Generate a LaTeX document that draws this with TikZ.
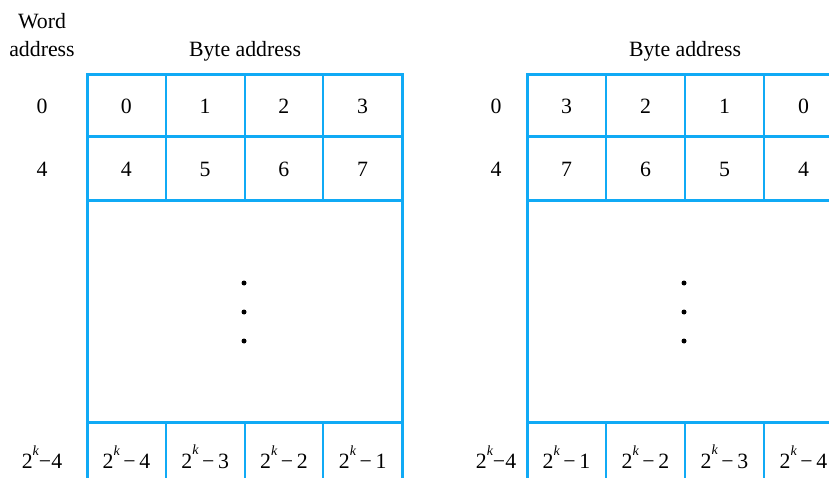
\documentclass[tikz,border=0pt]{standalone}
\usepackage{fontspec}
\setmainfont{Liberation Serif}
\definecolor{memblue}{RGB}{16,170,245}
\newcommand{\kexp}{\raisebox{0.62em}{\fontsize{14}{14}\selectfont\itshape k}}
\newcommand{\kpow}[1]{2\kexp\,−\,#1}
\newcommand{\kpowl}[1]{2\kexp−#1}
\begin{document}
\begin{tikzpicture}[x=1pt,y=-1pt,
  outer/.style={draw=memblue,line width=3pt},
  inner/.style={draw=memblue,line width=2pt},
  lbl/.style={font=\fontsize{21.8}{28}\selectfont, inner sep=0pt, anchor=center, align=center},
  dotm/.style={fill=black,circle,inner sep=0pt,minimum size=5pt}]
\useasboundingbox (0,0) rectangle (829,478);
\clip (0,0) rectangle (829,478);
% ---------- left box ----------
\draw[outer] (87,75) rectangle (402,500);
\foreach \yy in {137,201,422} \draw[outer] (87,\yy) -- (402,\yy);
\foreach \i in {1,2,3} {
  \draw[inner] ({87+\i*78.75},75) -- ({87+\i*78.75},201);
  \draw[inner] ({87+\i*78.75},422) -- ({87+\i*78.75},500);
}
\node[lbl] (wa) at (42,35) {Word\\address};
\node[lbl] (lba) at (245,51) {Byte address};
\node[lbl] (lw0) at (42,106) {0};
\node[lbl] (lw4) at (42,169) {4};
\node[lbl] (lwk) at (42,457) {\kpowl{4}};
\foreach \t [count=\c from 0] in {0,1,2,3}
  \node[lbl] (L-a-\c) at ({87+39.4+\c*78.75},106) {\t};
\foreach \t [count=\c from 0] in {4,5,6,7}
  \node[lbl] (L-b-\c) at ({87+39.4+\c*78.75},169) {\t};
\foreach \t [count=\c from 0] in {4,3,2,1}
  \node[lbl] (L-k-\c) at ({87+39.4+\c*78.75},457) {\kpow{\t}};
\foreach \yy [count=\n] in {283,312,341}
  \node[dotm] (ld\n) at (244,\yy) {};
% ---------- right box ----------
\draw[outer] (527,75) rectangle (843,500);
\foreach \yy in {137,201,422} \draw[outer] (527,\yy) -- (843,\yy);
\foreach \i in {1,2,3} {
  \draw[inner] ({527+\i*79},75) -- ({527+\i*79},201);
  \draw[inner] ({527+\i*79},422) -- ({527+\i*79},500);
}
\node[lbl] (rba) at (685,51) {Byte address};
\node[lbl] (rw0) at (496,106) {0};
\node[lbl] (rw4) at (496,169) {4};
\node[lbl] (rwk) at (496,457) {\kpowl{4}};
\foreach \t [count=\c from 0] in {3,2,1,0}
  \node[lbl] (R-a-\c) at ({527+39.5+\c*79},106) {\t};
\foreach \t [count=\c from 0] in {7,6,5,4}
  \node[lbl] (R-b-\c) at ({527+39.5+\c*79},169) {\t};
\foreach \t [count=\c from 0] in {1,2,3,4}
  \node[lbl] (R-k-\c) at ({527+39.5+\c*79},457) {\kpow{\t}};
\foreach \yy [count=\n] in {283,312,341}
  \node[dotm] (rd\n) at (684,\yy) {};
\end{tikzpicture}
\end{document}
